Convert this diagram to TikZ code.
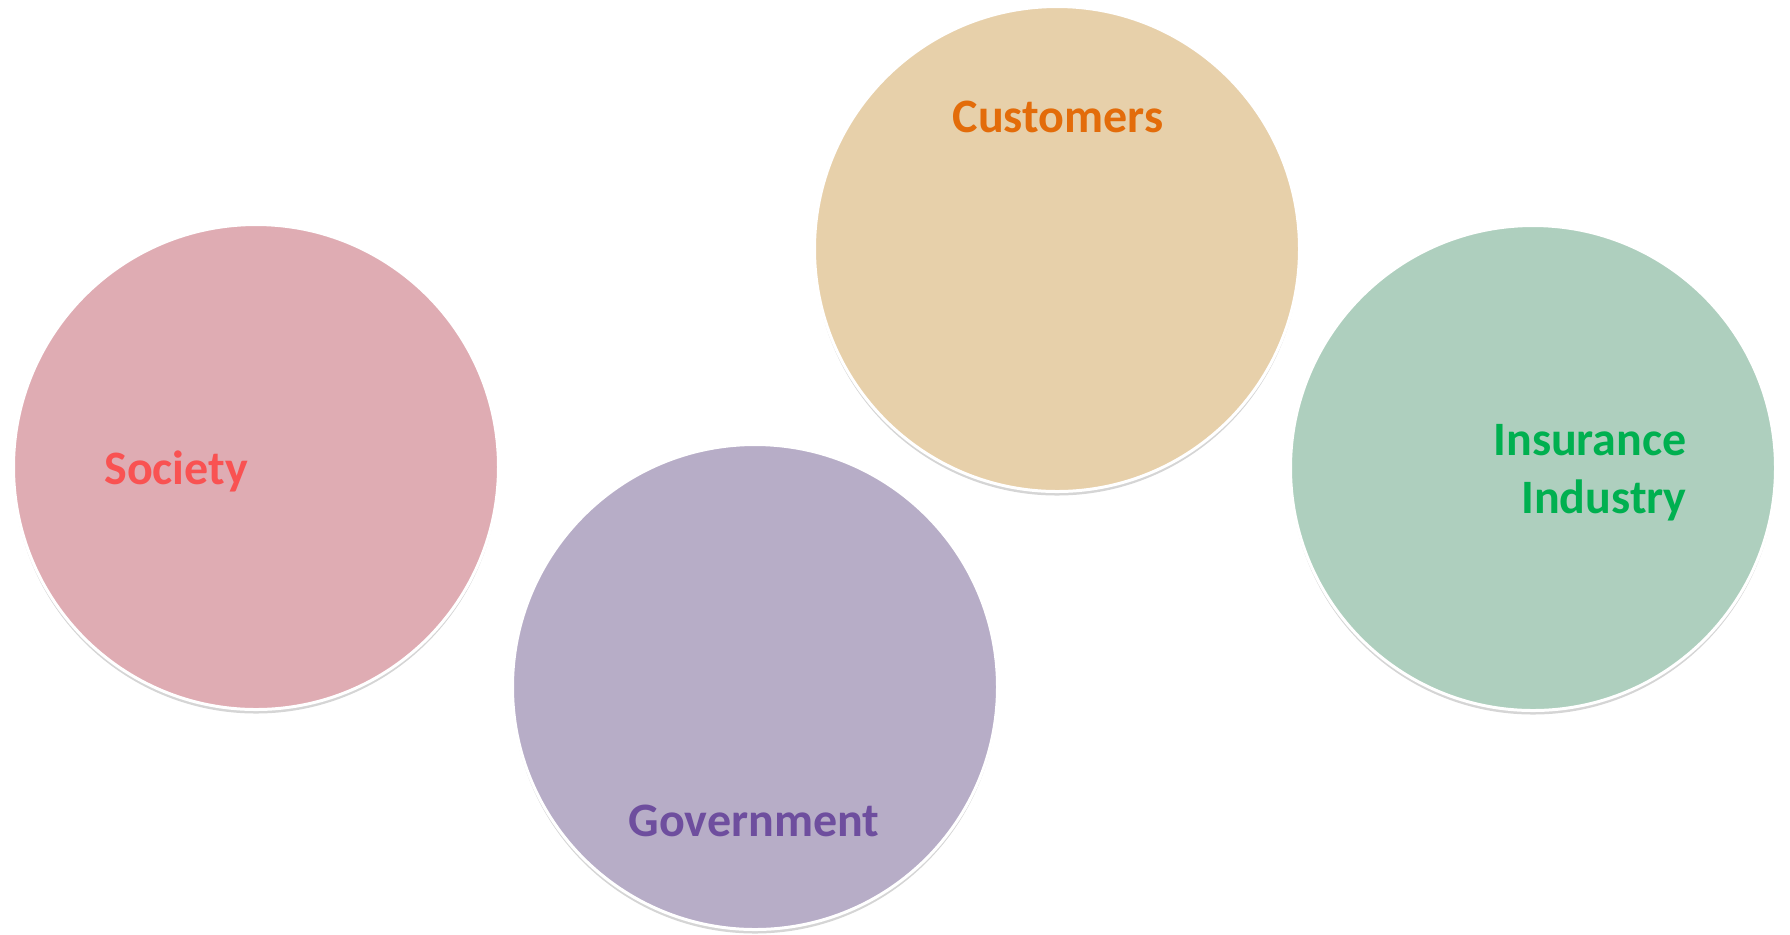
\documentclass[tikz,border=0pt]{standalone}
\usepackage{fontspec}
\setmainfont{Carlito}
\usetikzlibrary{shadows}

\definecolor{socfill}{HTML}{DFACB3}
\definecolor{soctext}{HTML}{F95252}
\definecolor{custfill}{HTML}{E7D0AA}
\definecolor{custtext}{HTML}{E36C0A}
\definecolor{govfill}{HTML}{B7ADC7}
\definecolor{govtext}{HTML}{6E4E9E}
\definecolor{insfill}{HTML}{AECFBE}
\definecolor{instext}{HTML}{00B050}

\begin{document}
\begin{tikzpicture}[x=0.5pt, y=-0.5pt,
bubble/.style={circle, draw=white, line width=1.5pt, minimum size=242.5pt, inner sep=0pt,
  drop shadow={shadow xshift=0pt, shadow yshift=-2pt, opacity=0.3, fill=black!55}},
tag/.style={font=\fontsize{24}{29}\selectfont\bfseries, inner sep=0pt}]
\useasboundingbox (0,0) rectangle (1790,934);
\node [bubble, fill=socfill] (soc) at (256,467){};
\node [bubble, fill=custfill] (cust) at (1057,249){};
\node [bubble, fill=govfill] (gov) at (755,687){};
\node [bubble, fill=insfill] (ins) at (1533,468){};
\node [tag, text=soctext, anchor=base west] (soclabel) at (104,484){Society};
\node [tag, text=custtext, anchor=base] (custlabel) at (1058,132){Customers};
\node [tag, text=govtext, anchor=base] (govlabel) at (754,836){Government};
\node [tag, text=instext, anchor=base east, align=right] (inslabel) at (1687,513){Insurance\\Industry};
\end{tikzpicture}
\end{document}
